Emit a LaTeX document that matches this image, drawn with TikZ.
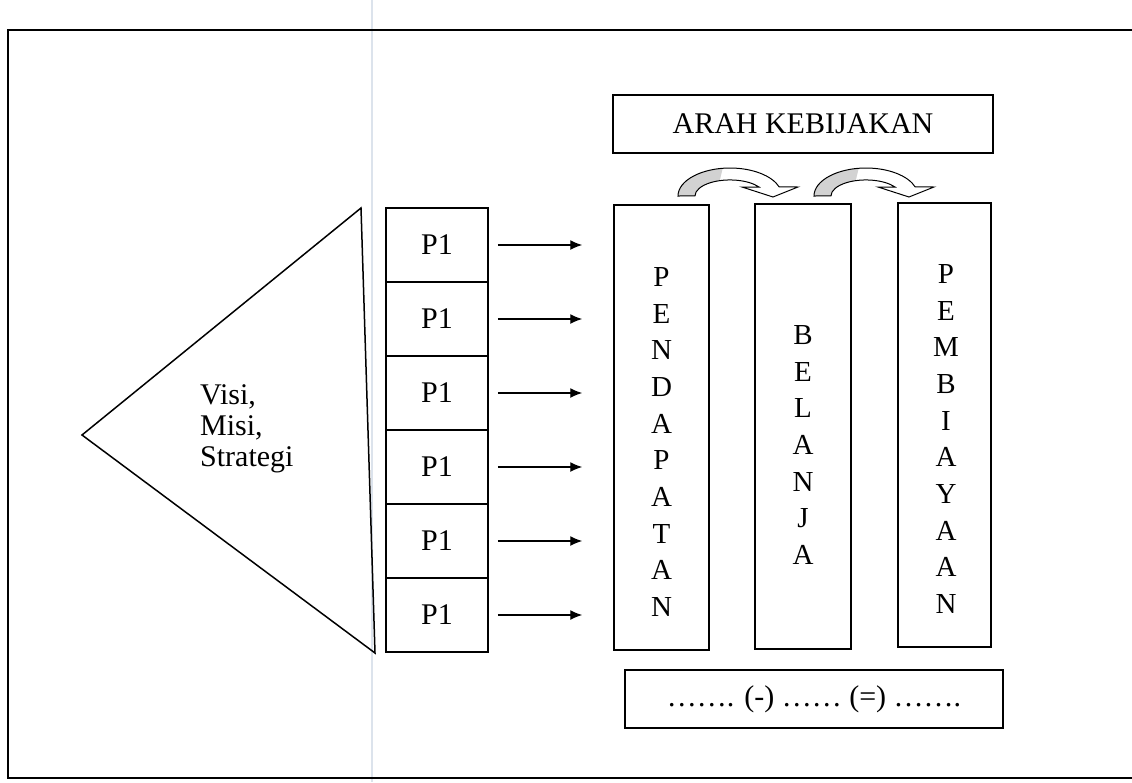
\documentclass[tikz,border=0pt]{standalone}
\usepackage{fontspec}
\setmainfont{Liberation Serif}
\usetikzlibrary{arrows.meta}
\definecolor{scanline}{HTML}{DCE3EC}
\begin{document}
\begin{tikzpicture}[x=1pt,y=-1pt,
  box/.style={draw, line width=1.5pt, inner sep=0pt, font=\fontsize{30}{32}\selectfont},
  pbox/.style={box, minimum width=102pt, minimum height=74pt},
  col/.style={draw, line width=1.5pt, inner sep=0pt},
  letters/.style={align=center, inner sep=0pt, font=\fontsize{29}{36.7}\selectfont},
  parrow/.style={-{Latex[length=12pt,width=10pt]}, line width=1.3pt, shorten <=9pt, shorten >=31pt},
  curved/.style={line width=1pt}
]
\useasboundingbox (0,0) rectangle (1132,782);
\fill[white] (0,0) rectangle (1132,782);
% faint scan line
\draw[scanline, line width=2pt] (372,0) -- (372,782);
% outer frame
\draw[line width=1.6pt] (1132,30) -- (8,30) -- (8,778) -- (1132,778);

% title
\node[box, minimum width=380pt, minimum height=58pt] (arah) at (803,124) {ARAH KEBIJAKAN};

% triangle
\draw[line width=1.5pt] (82,435) -- (361,208) -- (375,653) -- cycle;
\node[anchor=west, align=left, inner sep=0pt, font=\fontsize{30}{31}\selectfont] (vms) at (200,429) {Visi,\\Misi,\\Strategi};

% P1 stack
\foreach \i in {1,...,6}{
  \node[pbox] (p\i) at (437,{208+74*(\i-0.5)}) {P1};
}

% columns
\node[col, minimum width=95pt, minimum height=445pt] (pend) at (661.5,427.5) {};
\node[col, minimum width=96pt, minimum height=445pt] (bel) at (803,426.5) {};
\node[col, minimum width=93pt, minimum height=444pt] (pemb) at (944.5,425) {};
\node[letters] (tpend) at (661.5,442) {P\\E\\N\\D\\A\\P\\A\\T\\A\\N};
\node[letters] (tbel) at (803,445) {B\\E\\L\\A\\N\\J\\A};
\node[letters] (tpemb) at (946,439) {P\\E\\M\\B\\I\\A\\Y\\A\\A\\N};

% arrows
\foreach \i in {1,...,6}{
  \draw[parrow] (p\i.east) -- (p\i.east -| pend.west);
}

% curved block arrows (shaded tail, white head)
\foreach \dx/\nm in {0/c1,136/c2}{
  \begin{scope}[xshift=\dx]
    \path[save path=\curvepath] (678,196)
      arc[start angle=180, end angle=341, x radius=52, y radius=28]
      -- (798,187) -- (773,197) -- (742,187) -- (759,187)
      arc[start angle=326, end angle=180, x radius=35, y radius=16] -- cycle;
    \fill[white, use path=\curvepath];
    \begin{scope}
      \clip (600,150) -- (727,150) -- (714,205) -- (600,205) -- cycle;
      \fill[gray!35, use path=\curvepath];
    \end{scope}
    \draw[curved, use path=\curvepath];
  \end{scope}
}

% bottom box
\node[box, minimum width=378pt, minimum height=58pt] (sum) at (814,699) {……. (-) …… (=) …….};
\end{tikzpicture}
\end{document}
